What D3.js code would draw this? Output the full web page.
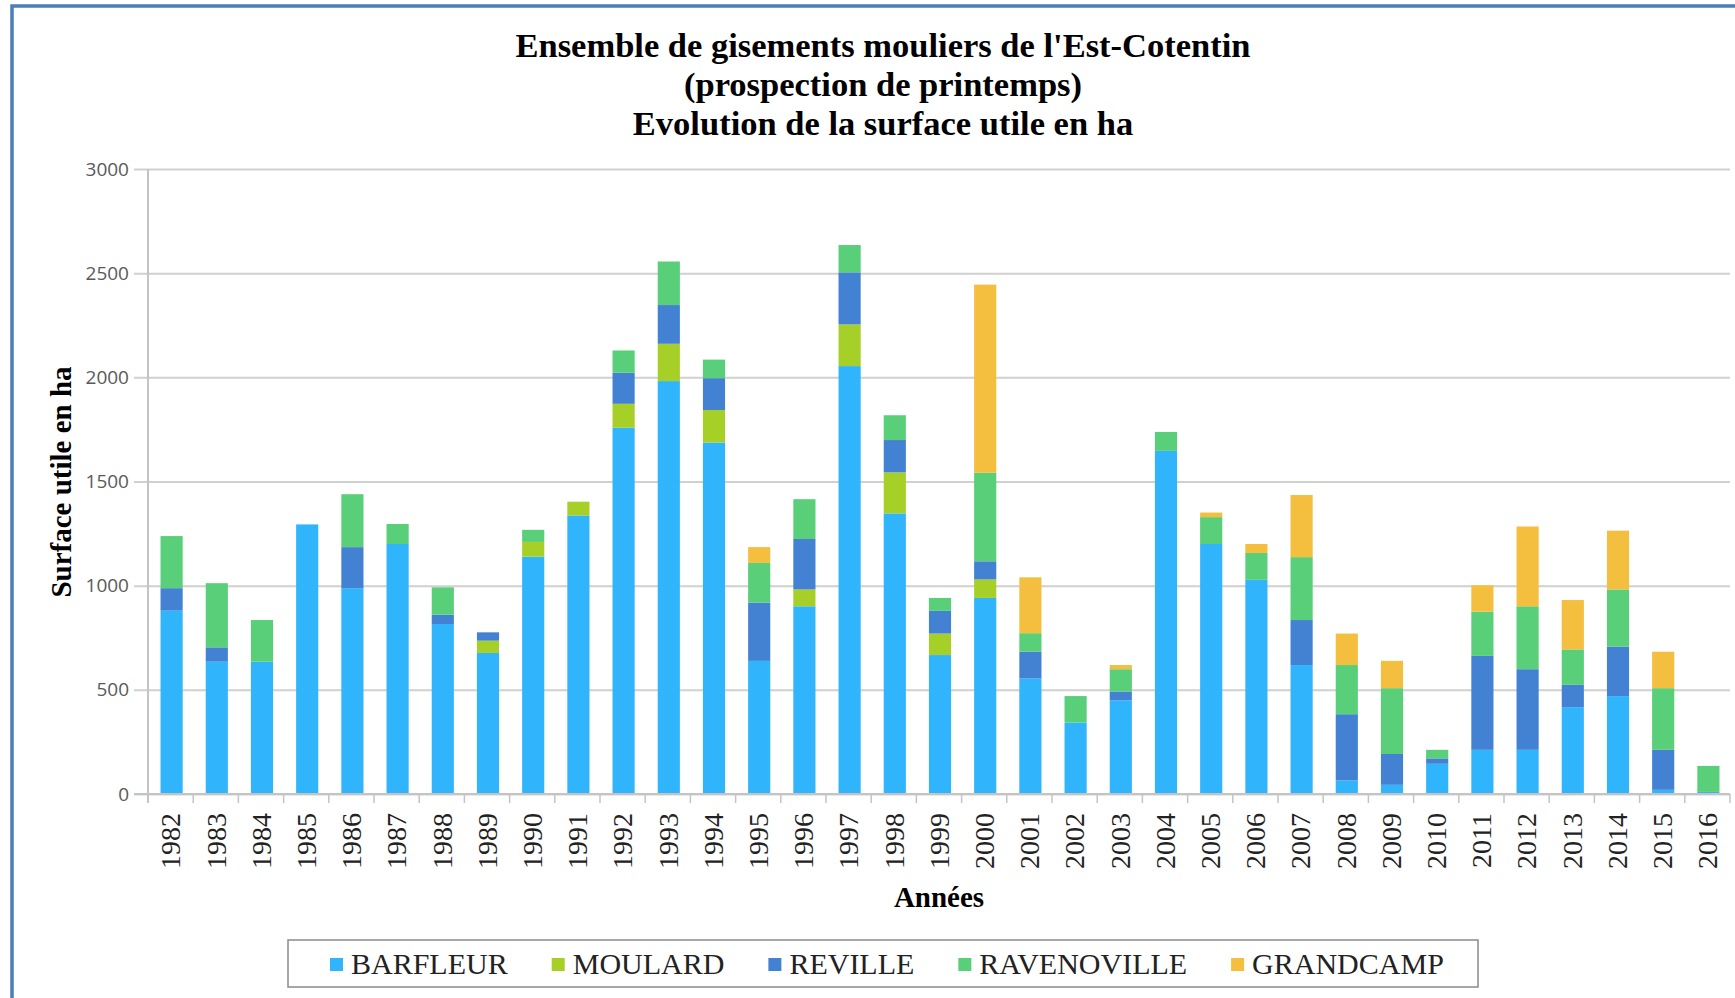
<!DOCTYPE html>
<html lang="fr">
<head>
<meta charset="utf-8">
<style>
  body { margin: 0; background: #fff; }
  svg { display: block; }
  .serif { font-family: "Liberation Serif", "Times New Roman", serif; }
  .grid line { stroke: #d0d0d0; stroke-width: 2px; }
  .ylab text { font-family: "Open Sans", sans-serif; fill: #595959; }
</style>
</head>
<body>
<svg width="1735" height="998"></svg>
<script src="https://cdn.jsdelivr.net/npm/d3@7"></script>
<script>
// data (ha)
var years = ["1982","1983","1984","1985","1986","1987","1988","1989","1990","1991",
  "1992","1993","1994","1995","1996","1997","1998","1999","2000","2001",
  "2002","2003","2004","2005","2006","2007","2008","2009","2010","2011",
  "2012","2013","2014","2015","2016"];
var barfleur    = [880,635,635,1294,988,1200,816,677,1139,1337,1758,1982,1687,639,901,2054,1347,667,941,554,343,450,1647,1200,1028,619,65,44,145,212,212,417,470,20,10];
var moulard     = [0,0,0,0,0,0,0,59,71,66,115,179,156,0,81,200,197,103,89,0,0,0,0,0,0,0,0,0,0,0,0,0,0,0,0];
var reville     = [108,69,0,0,197,0,45,40,0,0,149,186,153,280,242,250,155,109,87,129,0,42,0,0,0,216,318,148,26,451,387,107,238,192,0];
var ravenoville = [250,308,200,0,254,96,131,0,58,0,107,209,89,190,191,131,119,62,425,89,127,107,91,129,129,302,236,316,41,212,302,170,274,296,125];
var grandcamp   = [0,0,0,0,0,0,0,0,0,0,0,0,0,76,0,0,0,0,903,268,0,20,0,22,43,298,151,131,0,127,383,237,282,175,0];

var seriesNames = ["BARFLEUR","MOULARD","REVILLE","RAVENOVILLE","GRANDCAMP"];
var seriesColors = ["#30b5fd","#a6d027","#4382d3","#58cf78","#f4bf3f"];
var yTicks = [0,500,1000,1500,2000,2500,3000];
var titleLines = ["Ensemble de gisements mouliers de l'Est-Cotentin", "(prospection de printemps)", "Evolution de la surface utile en ha"];

var svg = d3.select("svg");

// rows for the stack
var rows = years.map(function (y, i) {
    return { year: y, BARFLEUR: barfleur[i], MOULARD: moulard[i], REVILLE: reville[i],
             RAVENOVILLE: ravenoville[i], GRANDCAMP: grandcamp[i] };
});
var stacked = d3.stack().keys(seriesNames)(rows);

var plotL = 148, plotR = 1730, plotT = 169, plotB = 794;

var x = d3.scaleBand().domain(years).range([plotL, plotR]).padding(0);
var y = d3.scaleLinear().domain([0, 3000]).range([plotB, plotT]);
var color = d3.scaleOrdinal().domain(seriesNames).range(seriesColors);
var barW = x.bandwidth() * 0.49;

// blue frame
svg.append("path")
    .attr("d", "M12,998 L12,6 L1735,6")
    .attr("fill", "none")
    .attr("stroke", "#4a7ebb")
    .attr("stroke-width", 3.5);

// title
svg.append("g").selectAll("text")
    .data(titleLines)
    .enter().append("text")
    .attr("class", "serif")
    .attr("x", 883)
    .attr("y", function (d, i) { return 57 + i * 39; })
    .attr("text-anchor", "middle")
    .style("font-size", "34.5px")
    .style("font-weight", "bold")
    .text(function (d) { return d; });

// gridlines
svg.append("g")
    .attr("class", "grid")
    .attr("transform", "translate(134,0)")
    .call(d3.axisLeft(y).tickValues(yTicks).tickSize(-(plotR - 134)).tickFormat(""))
    .call(function (g) { g.select(".domain").remove(); });

// y labels
svg.append("g")
    .attr("class", "ylab")
    .attr("transform", "translate(134,0)")
    .call(d3.axisLeft(y).tickValues(yTicks).tickSize(0).tickPadding(5).tickFormat(d3.format("d")))
    .call(function (g) { g.select(".domain").remove(); })
    .selectAll("text")
    .style("font-size", "19px");

// bars
svg.append("g").selectAll("g")
    .data(stacked)
    .enter().append("g")
    .attr("fill", function (d) { return color(d.key); })
    .selectAll("rect")
    .data(function (d) { return d; })
    .enter().append("rect")
    .attr("x", function (d) { return x(d.data.year) + (x.bandwidth() - barW) / 2 + 1; })
    .attr("width", barW)
    .attr("y", function (d) { return y(d[1]); })
    .attr("height", function (d) { return y(d[0]) - y(d[1]); });

// axes lines
svg.append("line")
    .attr("x1", plotL).attr("x2", plotL).attr("y1", plotT).attr("y2", plotB + 9)
    .attr("stroke", "#c4c4c4").attr("stroke-width", 2);
svg.append("line")
    .attr("x1", 134).attr("x2", plotR).attr("y1", plotB).attr("y2", plotB)
    .attr("stroke", "#c4c4c4").attr("stroke-width", 2);

// x tick marks at category boundaries
svg.append("g").selectAll("line")
    .data(years.map(function (d) { return x(d); }).concat([plotR]))
    .enter().append("line")
    .attr("x1", function (d) { return d; }).attr("x2", function (d) { return d; })
    .attr("y1", plotB).attr("y2", plotB + 9)
    .attr("stroke", "#c4c4c4").attr("stroke-width", 1.5);

// x labels
var xg = svg.append("g")
    .attr("transform", "translate(0," + plotB + ")")
    .call(d3.axisBottom(x).tickSize(0));
xg.select(".domain").remove();
xg.selectAll("text")
    .attr("class", "serif")
    .attr("transform", "rotate(-90)")
    .attr("x", -19)
    .attr("y", 0)
    .attr("dy", "0.35em")
    .attr("text-anchor", "end")
    .attr("fill", "#222")
    .style("font-size", "28px");

// axis titles
svg.append("text")
    .attr("class", "serif")
    .attr("transform", "translate(61,482) rotate(-90)")
    .attr("dy", "0.35em")
    .attr("text-anchor", "middle")
    .style("font-size", "29px")
    .style("font-weight", "bold")
    .text("Surface utile en ha");

svg.append("text")
    .attr("class", "serif")
    .attr("x", 939)
    .attr("y", 907)
    .attr("text-anchor", "middle")
    .style("font-size", "29px")
    .style("font-weight", "bold")
    .text("Années");

// legend
var lg = svg.append("g");
lg.append("rect")
    .attr("x", 288).attr("y", 940).attr("width", 1190).attr("height", 47)
    .attr("fill", "#fff").attr("stroke", "#8a8a8a").attr("stroke-width", 1.5);

var lx = 330;
seriesNames.forEach(function (name) {
    lg.append("rect")
        .attr("x", lx).attr("y", 958).attr("width", 13).attr("height", 13)
        .attr("fill", color(name));
    var t = lg.append("text")
        .attr("class", "serif")
        .attr("x", lx + 21)
        .attr("y", 974)
        .style("font-size", "30px")
        .attr("fill", "#222")
        .text(name);
    lx += 21 + t.node().getComputedTextLength() + 44;
});
</script>
</body>
</html>
